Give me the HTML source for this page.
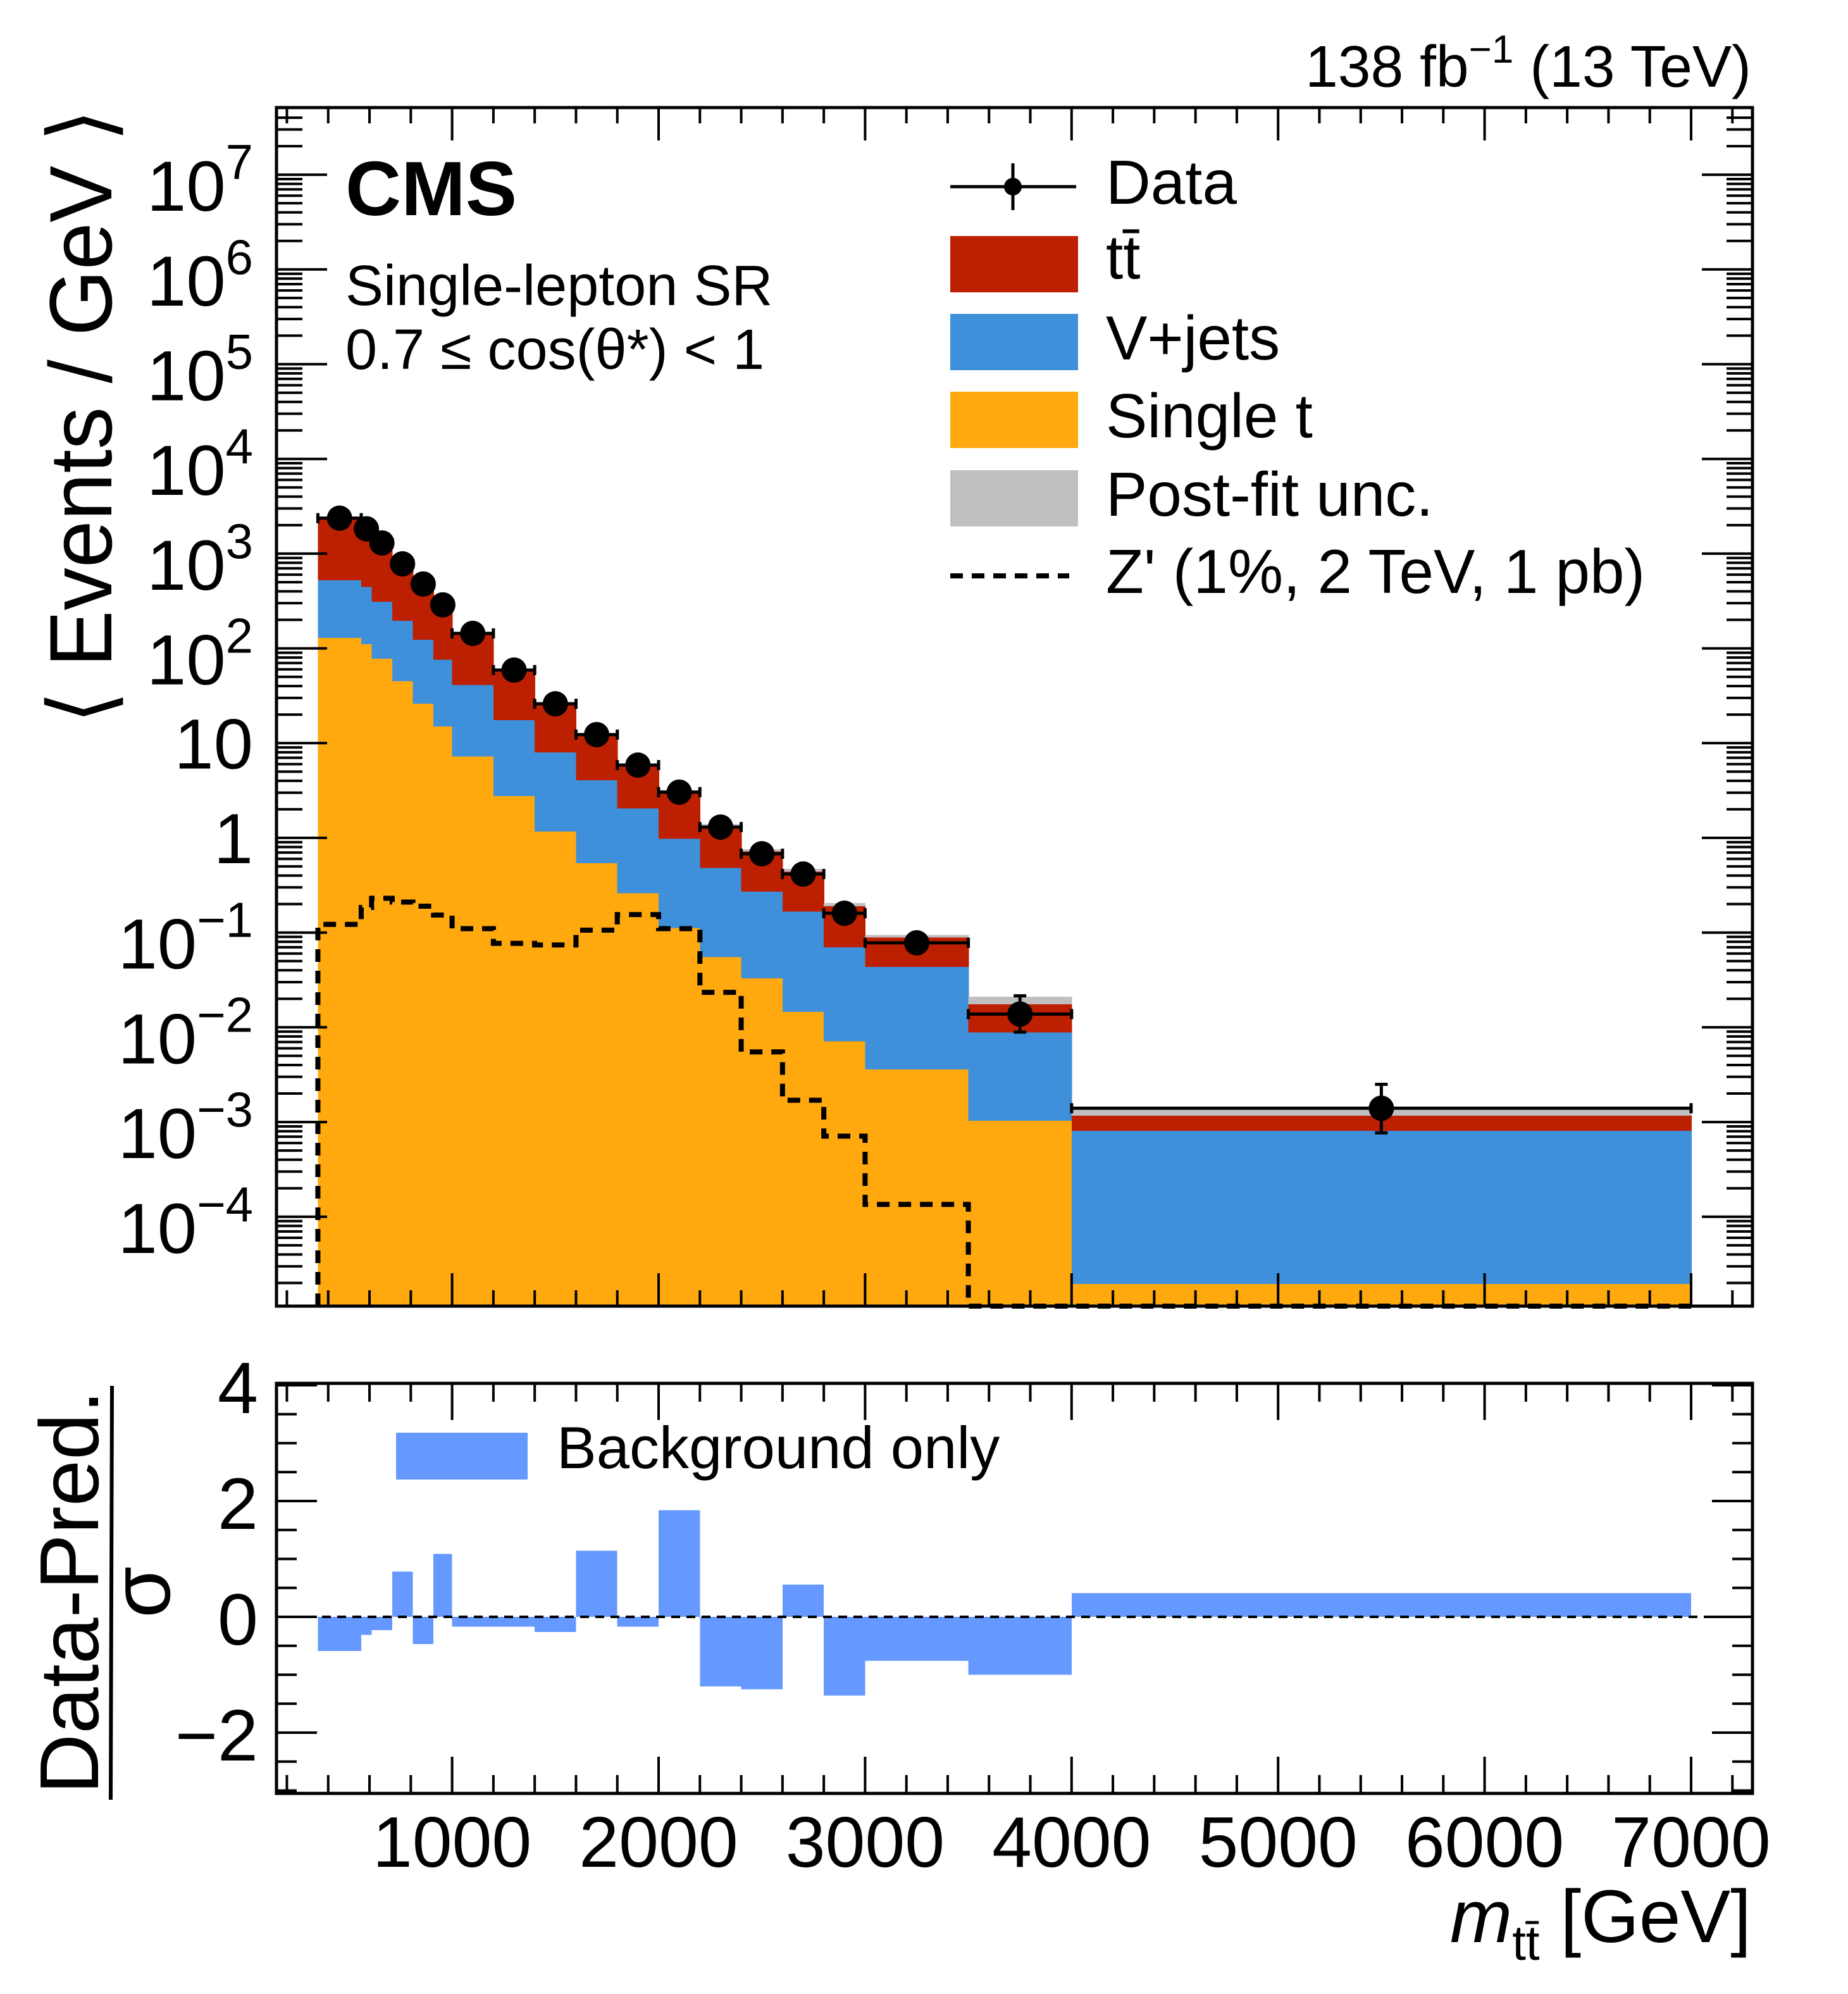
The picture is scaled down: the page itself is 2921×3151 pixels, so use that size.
<!DOCTYPE html>
<html><head><meta charset="utf-8"><style>
html,body{margin:0;padding:0;background:#fff;}
svg{display:block;font-family:"Liberation Sans",sans-serif;}
</style></head><body>
<svg id="chart" width="2921" height="3151" viewBox="0 0 2921 3151" xmlns="http://www.w3.org/2000/svg">
<g id="main-marks"></g>
<g id="ratio-marks"></g>
<g id="axes"></g>
<rect x="437" y="170" width="2333" height="1894" fill="none" stroke="#000" stroke-width="5"/>
<rect x="437" y="2186" width="2333" height="648" fill="none" stroke="#000" stroke-width="5"/>
<text x="2768" y="137" font-size="93" text-anchor="end">138 fb<tspan dy="-38" font-size="62">−1</tspan><tspan dy="38"> (13 TeV)</tspan></text>
<text x="546" y="340" font-size="122" font-weight="bold">CMS</text>
<text x="546" y="482" font-size="90">Single-lepton SR</text>
<text x="546" y="583" font-size="90">0.7 ≤ cos(θ*) &lt; 1</text>
<text transform="translate(176,658) rotate(-90)" font-size="140" text-anchor="middle" textLength="972" lengthAdjust="spacingAndGlyphs">⟨ Events / GeV ⟩</text>
<g>
<text transform="translate(155,2516) rotate(-90)" font-size="132" text-anchor="middle">Data-Pred.</text>
<line x1="177" y1="2190" x2="175" y2="2844" stroke="#000" stroke-width="6"/>
<text transform="translate(268,2516) rotate(-90)" font-size="132" text-anchor="middle">σ</text>
</g>
<text x="2768" y="3069" font-size="118" text-anchor="end"><tspan font-style="italic">m</tspan><tspan dy="28" font-size="78">tt̄</tspan><tspan dy="-28"> [GeV]</tspan></text>
<g>
<g>
<line x1="1502" y1="295" x2="1701" y2="295" stroke="#000" stroke-width="5"/>
<line x1="1601" y1="258" x2="1601" y2="332" stroke="#000" stroke-width="5"/>
<circle cx="1601" cy="295" r="14" fill="#000"/>
<text x="1748" y="322" font-size="98">Data</text></g>
<g><rect x="1502" y="373" width="202" height="89" fill="#bd1f01"/><text x="1748" y="440" font-size="98">tt̄</text></g>
<g><rect x="1502" y="496" width="202" height="89" fill="#3f90da"/><text x="1748" y="568" font-size="98">V+jets</text></g>
<g><rect x="1502" y="619" width="202" height="89" fill="#ffa90e"/><text x="1748" y="691" font-size="98">Single t</text></g>
<g><rect x="1502" y="743" width="202" height="89" fill="#c0c0c0"/><text x="1748" y="815" font-size="98">Post-fit unc.</text></g>
<g><line x1="1502" y1="910" x2="1690" y2="910" stroke="#000" stroke-width="8" stroke-dasharray="20,14"/><text x="1748" y="937" font-size="98">Z' (1%, 2 TeV, 1 pb)</text></g>
</g>
<g>
<rect x="626" y="2264" width="208" height="74" fill="#6699ff"/>
<text x="880" y="2320" font-size="94">Background only</text>
</g>
</svg>
<script>
const edges = [350,560,610,710,810,910,1000,1200,1400,1600,1800,2000,2200,2400,2600,2800,3000,3500,4000,7000];
const dataVals = [2370,1830,1297,780,478,288,144,59,26,12.3,5.86,3.04,1.3,0.68,0.415,0.16,0.078,0.0138,0.0014];
const dataErrUp = [50,43,36,28,22,17,8,4,2,1.2,0.6,0.35,0.18,0.12,0.08,0.035,0.012,0.0077,0.0011];
const dataErrDn = [50,43,36,28,22,17,8,4,2,1.2,0.6,0.35,0.18,0.12,0.08,0.035,0.012,0.0049,0.00063];
const ttbarTop = [2370,1830,1297,780,478,288,144,59,26,12.3,5.86,3.1,1.35,0.72,0.44,0.19,0.089,0.0175,0.00117];
const totalUncTop = [2450,1880,1330,800,490,296,148,61,27,12.7,6.05,3.2,1.4,0.76,0.47,0.205,0.094,0.021,0.00135];
const vjetsTop = [525,444,311,195,123,76,41,17.5,8,4.06,2.04,0.98,0.48,0.27,0.166,0.07,0.0435,0.0088,0.00081];
const singleTop = [129,111,78,45,26,15,7.2,2.76,1.17,0.54,0.26,0.112,0.055,0.033,0.0145,0.0071,0.0036,0.00103,0.0000195];
const zprime = [0.122,0.184,0.23,0.21,0.19,0.153,0.11,0.077,0.074,0.106,0.155,0.11,0.0234,0.0055,0.0017,0.00071,0.000135,0,0];
const pulls = [-0.59,-0.31,-0.23,0.78,-0.47,1.09,-0.17,-0.17,-0.26,1.14,-0.17,1.84,-1.2,-1.25,0.56,-1.36,-0.76,-1.0,0.41];
const xTicks = [1000,2000,3000,4000,5000,6000,7000];
const ratioTicks = [-2,0,2,4];
const ratioTickLabels = ['−2','0','2','4'];

const NS='http://www.w3.org/2000/svg';
const X = g => 714.6 + (g-1000)*0.3264;
const YMIN = 2064, YMAX = 170;
const Y = v => { if (v <= 0) return YMIN; const y = 1324 - Math.log10(v)*149.7; return Math.max(YMAX, Math.min(YMIN, y)); };
const R = r => 2555 - r*91.5;
function mk(tag, parent, attrs){ const e=document.createElementNS(NS,tag); for(const k in attrs) e.setAttribute(k,attrs[k]); parent.appendChild(e); return e; }
const main=document.getElementById('main-marks'), ratio=document.getElementById('ratio-marks'), axes=document.getElementById('axes');

for(let i=0;i < dataVals.length;i++){
  const x0=X(edges[i]), x1=X(edges[i+1])+0.8;
  let e;
  e=mk('rect',main,{x:x0,y:Y(totalUncTop[i]),width:x1-x0,height:Y(ttbarTop[i])-Y(totalUncTop[i])+6,fill:'#c0c0c0','shape-rendering':'crispEdges'});
  
  
  e=mk('rect',main,{x:x0,y:Y(ttbarTop[i]),width:x1-x0,height:YMIN-Y(ttbarTop[i]),fill:'#bd1f01','shape-rendering':'crispEdges'});
  
  
  e=mk('rect',main,{x:x0,y:Y(vjetsTop[i]),width:x1-x0,height:YMIN-Y(vjetsTop[i]),fill:'#3f90da','shape-rendering':'crispEdges'});
  
  
  e=mk('rect',main,{x:x0,y:Y(singleTop[i]),width:x1-x0,height:YMIN-Y(singleTop[i]),fill:'#ffa90e','shape-rendering':'crispEdges'});
  
  
}
let d='M'+X(edges[0])+','+YMIN;
for(let i=0;i < zprime.length;i++){ d+=' L'+X(edges[i])+','+Y(zprime[i])+' L'+X(edges[i+1])+','+Y(zprime[i]); }
let zp=mk('path',main,{d:d,fill:'none',stroke:'#000','stroke-width':8,'stroke-dasharray':'20,14'});


for(let i=0;i < dataVals.length;i++){
  const x0=X(edges[i]), x1=X(edges[i+1]), xc=(x0+x1)/2, yc=Y(dataVals[i]);
  const g=mk('g',main,{});
  
  
  mk('line',g,{x1:x0,y1:yc,x2:x1,y2:yc,stroke:'#000','stroke-width':5});
  mk('line',g,{x1:x0,y1:yc-8,x2:x0,y2:yc+8,stroke:'#000','stroke-width':5});
  mk('line',g,{x1:x1,y1:yc-8,x2:x1,y2:yc+8,stroke:'#000','stroke-width':5});
  const yu=Y(dataVals[i]+dataErrUp[i]), yd=Y(dataVals[i]-dataErrDn[i]);
  mk('line',g,{x1:xc,y1:yu,x2:xc,y2:yd,stroke:'#000','stroke-width':5});
  if(yd-yu > 45){ mk('line',g,{x1:xc-10,y1:yu,x2:xc+10,y2:yu,stroke:'#000','stroke-width':5}); mk('line',g,{x1:xc-10,y1:yd,x2:xc+10,y2:yd,stroke:'#000','stroke-width':5}); }
  mk('ellipse',g,{cx:xc,cy:yc,rx:20,ry:20,fill:'#000'});
}
for(let i=0;i < pulls.length;i++){
  const x0=X(edges[i]), x1=X(edges[i+1]);
  const y0=R(0), y1=R(pulls[i]);
  const e=mk('rect',ratio,{x:x0,y:Math.min(y0,y1),width:x1-x0,height:Math.abs(y1-y0),fill:'#6699ff','shape-rendering':'crispEdges'});
  
  
}
let zl=mk('line',ratio,{x1:437,y1:R(0),x2:2770,y2:R(0),stroke:'#000','stroke-width':4,'stroke-dasharray':'14,10'});



for(let g=200; g <= 7200; g+=200){
  const x=X(g); if(x < 440 || x > 2767) continue;
  const major = g%1000===0;
  const lm = major?52:25, lr = major?58:29;
  mk('line',axes,{x1:x,y1:170,x2:x,y2:170+lm,stroke:'#000','stroke-width':4});
  mk('line',axes,{x1:x,y1:2064,x2:x,y2:2064-lm,stroke:'#000','stroke-width':4});
  mk('line',axes,{x1:x,y1:2186,x2:x,y2:2186+lr,stroke:'#000','stroke-width':4});
  mk('line',axes,{x1:x,y1:2834,x2:x,y2:2834-lr,stroke:'#000','stroke-width':4});
}
for(let i=0;i < xTicks.length;i++){
  const t=mk('text',axes,{x:X(xTicks[i]),y:2950,'font-size':113,'text-anchor':'middle'});
  t.textContent=String(xTicks[i]);
  
  
}
for(let e=-5;e <= 7;e++){
  for(let m=1;m <= 9;m++){
    const v=m*Math.pow(10,e); const y=1324-Math.log10(v)*149.7;
    if(y < 172 || y > 2062) continue;
    const l = m===1?80:41;
    mk('line',axes,{x1:437,y1:y,x2:437+l,y2:y,stroke:'#000','stroke-width':4});
    mk('line',axes,{x1:2770,y1:y,x2:2770-l,y2:y,stroke:'#000','stroke-width':4});
  }
}
const yLabelExps=[7,6,5,4,3,2,1,0,-1,-2,-3,-4];
for(const e of yLabelExps){
  const y=1324-e*149.7;
  const t=mk('text',axes,{x:400,'font-size':112,'text-anchor':'end'});
  
  
  if(e===1){ t.setAttribute('y',y+40); t.textContent='10'; }
  else if(e===0){ t.setAttribute('y',y+40); t.textContent='1'; }
  else {
    t.setAttribute('y',y+57);
    const s1=document.createElementNS(NS,'tspan'); s1.textContent='10'; t.appendChild(s1);
    const s2=document.createElementNS(NS,'tspan'); s2.setAttribute('dy','-50'); s2.setAttribute('font-size','78'); s2.textContent=(e < 0?'−':'')+Math.abs(e); t.appendChild(s2);
  }
}
for(let r=-3; r <= 4; r+=0.5){
  const y=R(r); if(y < 2188 || y > 2832) continue;
  const l = (Math.abs(r%2) < 1e-9)?64:32;
  mk('line',axes,{x1:437,y1:y,x2:437+l,y2:y,stroke:'#000','stroke-width':4});
  mk('line',axes,{x1:2770,y1:y,x2:2770-l,y2:y,stroke:'#000','stroke-width':4});
}
for(let i=0;i < ratioTicks.length;i++){
  const t=mk('text',axes,{x:408,y:R(ratioTicks[i])+44,'font-size':115,'text-anchor':'end'});
  t.textContent=ratioTickLabels[i];
  
  
}
</script>
</body></html>
